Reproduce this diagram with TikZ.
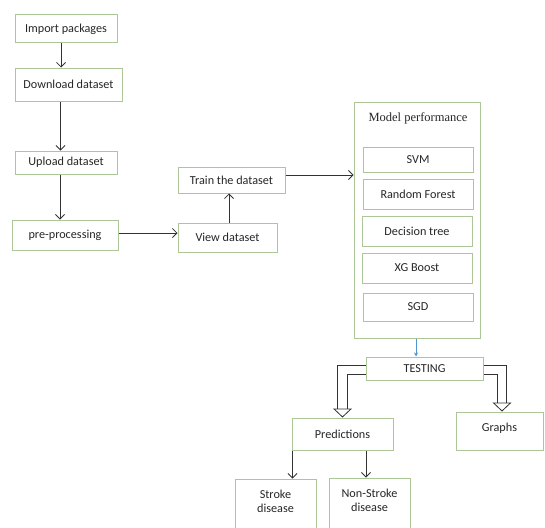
\documentclass[tikz,border=0pt]{standalone}
\usepackage{fontspec}
\setmainfont{Carlito}
\newfontfamily\titlefont{Liberation Serif}
\usetikzlibrary{positioning,arrows.meta}
\definecolor{boxgreen}{RGB}{172,198,152}
\definecolor{arrowblue}{RGB}{80,150,210}

\begin{document}
\begin{tikzpicture}[
                x=1pt, y=-1pt,
                every node/.style={font=\fontsize{12.2}{14}\selectfont, text=black!85},
                box/.style={draw=boxgreen, line width=1pt, align=center, inner sep=2pt},
                flow/.style={->, line width=0.8pt, black!80},
                hollow/.style={draw=black!80, line width=0.8pt, double=white, double distance=8.5pt,
                  -{Triangle[open, length=9pt, width=19pt]}},
                >={Straight Barb[length=4.5pt, width=9pt]}
                ]
                \clip (0,0) rectangle (545,527);
                % Define the nodes
                \node (n1) [box, minimum width=102pt, minimum height=28pt] at (66,29) {Import packages};
                \node (n2) [box, minimum width=107pt, minimum height=33pt] at (68.5,84.5) {Download dataset};
                \node (n3) [box, minimum width=102pt, minimum height=23pt] at (66,162.5) {Upload dataset};
                \node (n4) [box, minimum width=106pt, minimum height=30pt] at (65,235) {pre-processing};
                \node (n5) [box, minimum width=99pt, minimum height=29pt] at (227.5,237.5) {View dataset};
                \node (n6) [box, minimum width=107pt, minimum height=26pt] at (231.5,180) {Train the dataset};

                % model performance block
                \node (n7) [box, minimum width=126pt, minimum height=236pt] at (417,220) {};
                \node (n8) [font=\titlefont\fontsize{12.5}{14}\selectfont] at (418,118) {Model performance};
                \node (m1) [box, minimum width=110pt, minimum height=25pt] at (418,159.5) {SVM};
                \node (m2) [box, minimum width=110pt, minimum height=30pt] at (418,194) {Random Forest};
                \node (m3) [box, minimum width=110pt, minimum height=30pt] at (417,231) {Decision tree};
                \node (m4) [box, minimum width=110pt, minimum height=30pt] at (417,268) {XG Boost};
                \node (m5) [box, minimum width=110pt, minimum height=28pt] at (418,307) {SGD};

                \node (n9) [box, minimum width=117pt, minimum height=23pt] at (424.5,368.5) {TESTING};
                \node (n10) [box, minimum width=101pt, minimum height=32pt] at (342.5,434) {Predictions};
                \node (n11) [box, minimum width=87pt, minimum height=38pt, text depth=8pt] at (499.5,431) {Graphs};
                \node (n12) [box, minimum width=81pt, minimum height=52pt, text depth=8pt] at (275.5,505) {Stroke\\disease};
                \node (n13) [box, minimum width=81pt, minimum height=52pt, text depth=8pt] at (369.5,504) {Non-Stroke\\disease};

                % Draw the arrows
                \draw[flow] ([xshift=-5pt]n1.south) -- ([xshift=-5pt]n1.south |- n2.north);
                \draw[flow] ([xshift=-8pt]n2.south) -- ([xshift=-8pt]n2.south |- n3.north);
                \draw[flow] ([xshift=-6pt]n3.south) -- ([xshift=-6pt]n3.south |- n4.north);
                \draw[flow] ([yshift=2pt]n4.east) -- ([yshift=2pt]n4.east -| n5.west);
                \draw[flow] ([xshift=1.5pt]n5.north) -- ([xshift=1.5pt]n5.north |- n6.south);
                \draw[flow] ([yshift=5pt]n6.east) -- ([yshift=5pt]n6.east -| n7.west);
                \draw[-{Stealth[length=4pt, width=4pt]}, arrowblue, line width=0.8pt]
                  ([xshift=-1pt]n7.south) -- ([xshift=-1pt]n7.south |- n9.north);
                \draw[hollow] ([yshift=-1.5pt]n9.west) -| (n10.north);
                \draw[hollow] ([yshift=-1.5pt]n9.east) -| ([xshift=2.5pt]n11.north);
                \draw[flow] ([xshift=1pt]n10.south west) -- ([xshift=1pt]n10.south west |- n12.north);
                \draw[flow] ([xshift=-3.5pt]n13.north |- n10.south) -- ([xshift=-3.5pt]n13.north);
            \end{tikzpicture}
\end{document}
